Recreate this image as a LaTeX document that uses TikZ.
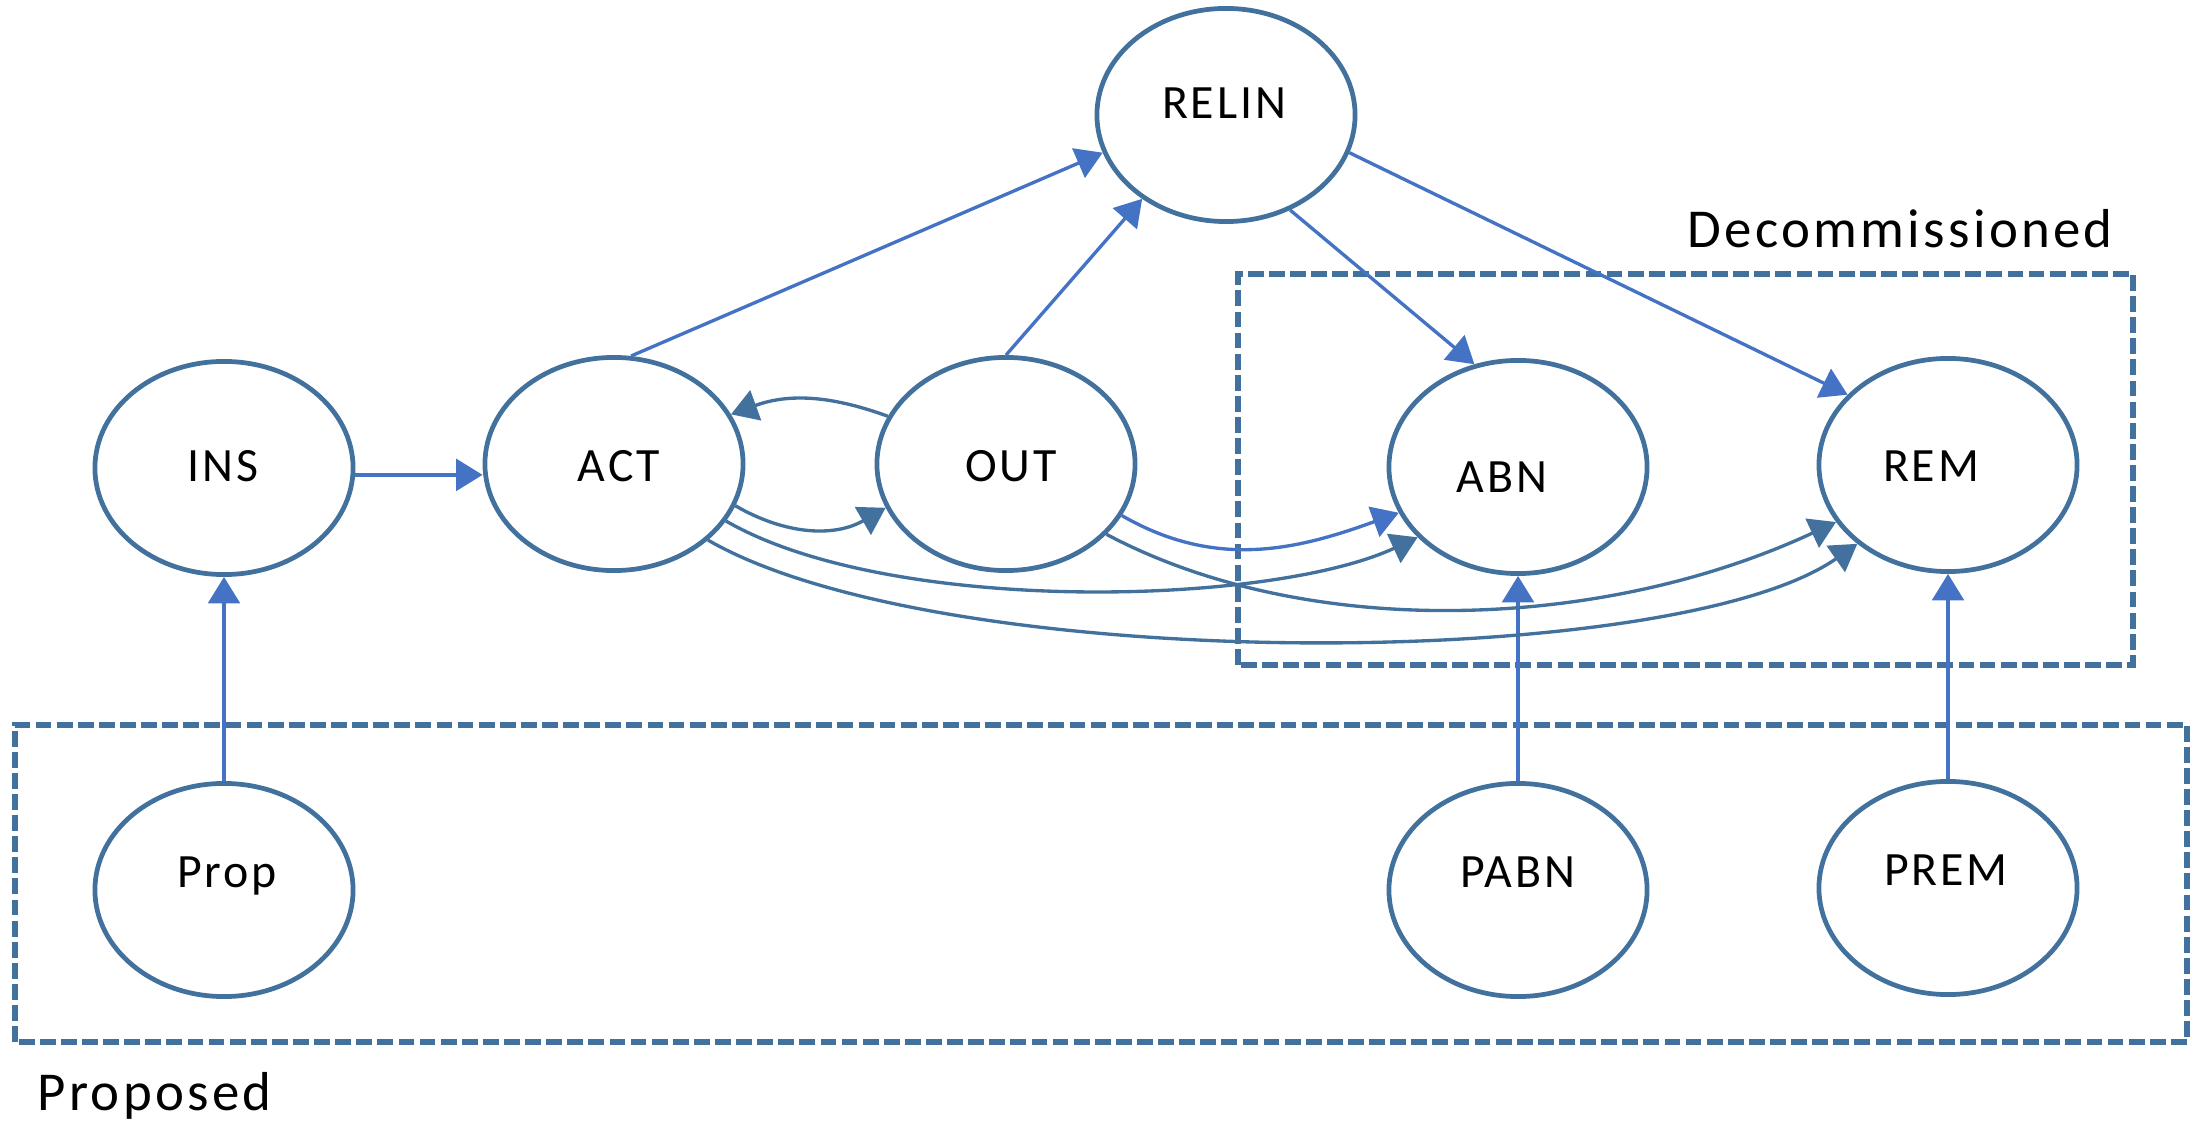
\documentclass[tikz,border=0pt]{standalone}
\usepackage{fontspec}
\setmainfont{Carlito}[LetterSpace=6]
\usetikzlibrary{arrows.meta,shapes.geometric}
\definecolor{edgeblue}{HTML}{41719C}
\definecolor{arrowblue}{HTML}{4472C4}
\begin{document}
\begin{tikzpicture}[x=0.01cm,y=0.01cm,
  state/.style={ellipse,draw=edgeblue,line width=1.35pt,minimum width=2.58cm,minimum height=2.13cm,inner sep=0pt},
  nodetext/.style={anchor=base,inner sep=0pt,font=\fontsize{13.6}{16}\selectfont},
  grouplabel/.style={anchor=base west,inner sep=0pt,font=\fontsize{15.6}{18}\selectfont},
  brightarrow/.style={draw=arrowblue,line width=0.95pt,-{Triangle[length=7.5pt,width=9pt]}},
  darkarrow/.style={draw=edgeblue,line width=0.95pt,-{Triangle[length=7.5pt,width=9pt]}},
  groupbox/.style={draw=edgeblue,line width=1.6pt,dash pattern=on 4.5pt off 1.5pt}]
\useasboundingbox (0,0) rectangle (2201,1124);

% group boxes
\draw[groupbox] (15,82) rectangle (2187,399);
\draw[groupbox] (1238,459) rectangle (2133,850);
\node[grouplabel] (declabel) at (1687,876) {Decommissioned};
\node[grouplabel] (proplabel) at (37,14) {Proposed};

% states
\node[state] (relin) at (1226,1009) {};
\node[state] (ins) at (224,656) {};
\node[state] (act) at (614,660) {};
\node[state] (out) at (1006,660) {};
\node[state] (abn) at (1518,657) {};
\node[state] (rem) at (1948,659) {};
\node[state] (prop) at (224,234) {};
\node[state] (pabn) at (1518,234) {};
\node[state] (prem) at (1948,236) {};

% texts
\node[nodetext] (relinT) at (1224,1005) {RELIN};
\node[nodetext] (insT) at (223,642) {INS};
\node[nodetext] (actT) at (619,642) {ACT};
\node[nodetext] (outT) at (1011,642) {OUT};
\node[nodetext] (abnT) at (1502,631) {ABN};
\node[nodetext] (remT) at (1931,642) {REM};
\node[nodetext] (propT) at (227,237) {Prop};
\node[nodetext] (pabnT) at (1518,237) {PABN};
\node[nodetext] (premT) at (1946,239) {PREM};

% straight connectors
\draw[brightarrow] (act.81) -- (relin.197);
\draw[brightarrow] (out.north) -- (relin.-135);
\draw[brightarrow] (relin.-56) -- (abn.113);
\draw[brightarrow] (relin.-17) -- (rem.145);
\draw[brightarrow] (ins.-3) -- (ins.-3 -| act.west);
\draw[brightarrow] (pabn.north) -- (abn.south);
\draw[brightarrow] (prem.north) -- (rem.south);
\draw[brightarrow] (prop.north) -- (ins.south);

% curved connectors
\draw[darkarrow] (act.-19) to[out=-30,in=-150] (out.-160);
\draw[darkarrow] (out.158) to[out=160,in=20] (act.23);
\draw[brightarrow] (out.-24) to[out=-30,in=-160] (abn.-159);
\draw[darkarrow] (act.-27) to[out=-30,in=-155,out looseness=0.7,in looseness=0.6] (abn.-145);
\draw[darkarrow] (out.-35) to[out=-28,in=-155,out looseness=0.8,in looseness=0.9] (rem.-153);
\draw[darkarrow] (act.-39) to[out=-30,in=-145,out looseness=0.6,in looseness=0.5] (rem.-139);
\end{tikzpicture}
\end{document}
